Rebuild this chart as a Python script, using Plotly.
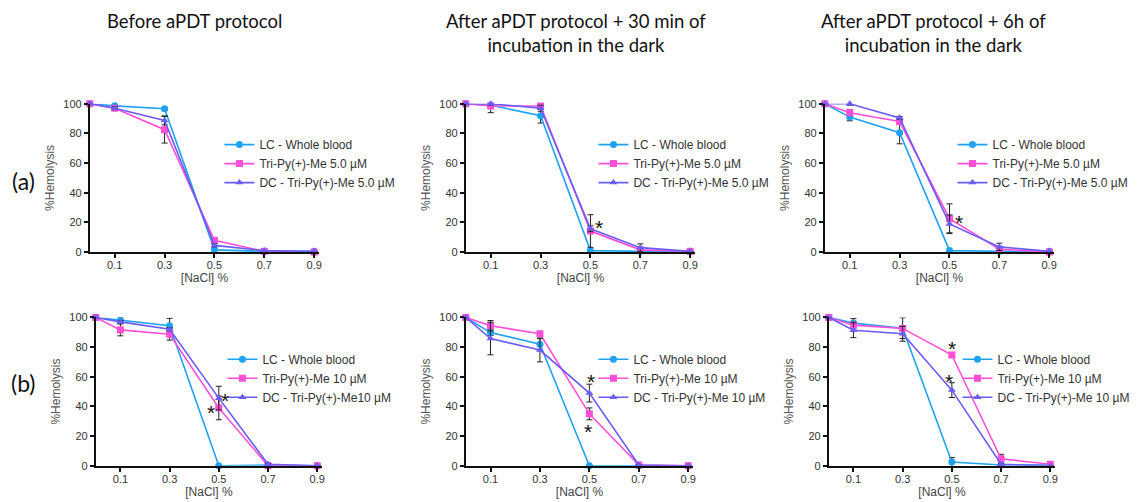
import plotly.graph_objects as go

# page body has an 8px margin; the figure is sized to fill the rest of the window
OFF = 8
W, H = 1140 - OFF, 502 - OFF


def px_x(v):
    return (v - OFF) / W


def px_y(v):
    return 1 - (v - OFF) / H


x_nacl = [0, 0.1, 0.3, 0.5, 0.7, 0.9]
x_ticks = [0.1, 0.3, 0.5, 0.7, 0.9]
x_ticklabels = ["0.1", "0.3", "0.5", "0.7", "0.9"]
y_ticks = [0, 20, 40, 60, 80, 100]

panel_titles = ["Before aPDT protocol",
                "After aPDT protocol + 30 min of<br>incubation in the dark",
                "After aPDT protocol + 6h of<br>incubation in the dark"]
row_labels = ["(a)", "(b)"]

series_names = [
    ["LC - Whole blood", "Tri-Py(+)-Me 5.0 µM", "DC - Tri-Py(+)-Me 5.0 µM"],
    ["LC - Whole blood", "Tri-Py(+)-Me 5.0 µM", "DC - Tri-Py(+)-Me 5.0 µM"],
    ["LC - Whole blood", "Tri-Py(+)-Me 5.0 µM", "DC - Tri-Py(+)-Me 5.0 µM"],
    ["LC - Whole blood", "Tri-Py(+)-Me 10 µM", "DC - Tri-Py(+)-Me10 µM"],
    ["LC - Whole blood", "Tri-Py(+)-Me 10 µM", "DC - Tri-Py(+)-Me 10 µM"],
    ["LC - Whole blood", "Tri-Py(+)-Me 10 µM", "DC - Tri-Py(+)-Me 10 µM"],
]

# %Hemolysis values, panels a1,a2,a3,b1,b2,b3
lc_values = [
    [100, 98.6, 96.6, 1.5, 0.5, 0.5],
    [100, 99, 92, 1, 0.5, 0.5],
    [100, 91, 80.5, 1, 0.5, 0.5],
    [100, 98, 94.4, 0, 0.5, 0],
    [100, 89.8, 82, 0, 0, 0],
    [100, 96.2, 92.8, 2.5, 0.5, 0.5],
]
lc_errors = [
    [0, 1, 1, 0, 0, 0],
    [0, 5, 5, 0, 0, 0],
    [0, 2.5, 7.5, 0, 0, 0],
    [0, 2, 5, 0, 0, 0],
    [0, 2, 4, 0, 0, 0],
    [0, 3, 7, 3, 0, 0],
]
tri_values = [
    [100, 97, 82.5, 7.9, 0.5, 0],
    [100, 98.5, 98.5, 14.2, 1.5, 0.5],
    [100, 94, 88, 22.5, 2, 0],
    [100, 91.6, 88.7, 39, 0, 0],
    [100, 94.4, 89, 35, 0.5, 0],
    [100, 94.8, 92.6, 74.7, 4.7, 1],
]
tri_errors = [
    [0, 1, 9, 1, 0, 0],
    [0, 1, 1.5, 11, 1, 0],
    [0, 2, 2, 10, 1, 0],
    [0, 4, 4, 8, 0, 0],
    [0, 3.5, 1, 4, 0, 0],
    [0, 2, 1, 1, 3, 0],
]
dc_values = [
    [100, 97, 88.8, 4.5, 1, 0.5],
    [100, 100, 97, 15.7, 3, 0.5],
    [100, 100, 90.5, 19, 3.5, 0.5],
    [100, 97, 92, 45.6, 1, 0],
    [100, 85.8, 78, 49, 0.5, 0],
    [100, 91.4, 89, 51, 1, 0],
]
dc_errors = [
    [0, 1, 3, 1, 0, 0],
    [0, 1, 2, 2, 2.5, 0],
    [0, 1, 1, 6, 2.5, 0],
    [0, 1, 1, 8, 0.5, 0],
    [0, 11, 8, 6, 0, 0],
    [0, 5, 5, 5, 0, 0],
]

# significance asterisks (x, y) per panel
asterisks = [
    [],
    [(0.536, 19.5)],
    [(0.54, 22.8)],
    [(0.526, 47), (0.47, 38.5)],
    [(0.508, 59.5), (0.496, 25.7)],
    [(0.502, 81.8), (0.49, 59.5)],
]

colors = ["#1EA3F2", "#FF4FD6", "#6A5CF6"]
symbols = ["circle", "square", "triangle-up"]

# layout geometry in window pixels
x_px = [(90, 320), (467, 697), (827, 1057), (96, 323), (467, 695), (831, 1058)]
y_px = [(100, 252)] * 3 + [(319, 471)] * 3
legend_px = [(220, 127), (595, 127), (955, 127), (223, 347), (595, 347), (960, 347)]

fig = go.Figure()
all_vals = [lc_values, tri_values, dc_values]
all_errs = [lc_errors, tri_errors, dc_errors]

axis_font = dict(family="Liberation Sans, Arial", size=11, color="#333")

layout = dict()
for p in range(6):
    ax = "" if p == 0 else str(p + 1)
    leg = "legend" if p == 0 else "legend" + str(p + 1)
    for s in range(3):
        fig.add_trace(go.Scatter(
            x=x_nacl, y=all_vals[s][p], name=series_names[p][s],
            mode="lines+markers", xaxis="x" + ax, yaxis="y" + ax, legend=leg,
            line=dict(color=colors[s], width=1.6),
            marker=dict(color=colors[s], symbol=symbols[s], size=7),
            error_y=dict(type="data", array=all_errs[s][p], color="#222222",
                         thickness=1, width=3),
            cliponaxis=False, showlegend=True,
        ))
    x0, x1 = x_px[p]
    y0, y1 = y_px[p]
    layout["xaxis" + ax] = dict(
        domain=[px_x(x0), px_x(x1)], range=[0, 0.92], anchor="y" + ax,
        tickvals=x_ticks, ticktext=x_ticklabels, ticks="outside", ticklen=4,
        tickwidth=1.5, tickcolor="#111", showline=True, linecolor="#111",
        linewidth=1.8, showgrid=False, zeroline=False,
        tickfont=axis_font, ticklabelstandoff=-2,
        title=dict(text="[NaCl] %", standoff=0,
                   font=dict(family="Liberation Sans, Arial", size=12, color="#444")),
        fixedrange=True,
    )
    layout["yaxis" + ax] = dict(
        domain=[px_y(y1), px_y(y0)], range=[0, 100], anchor="x" + ax,
        tickvals=y_ticks, ticks="outside", ticklen=4, tickwidth=1.5,
        tickcolor="#111", showline=True, linecolor="#111", linewidth=1.8,
        showgrid=False, zeroline=False,
        tickfont=axis_font,
        title=dict(text="%Hemolysis", standoff=6,
                   font=dict(family="Liberation Sans, Arial", size=12, color="#555")),
        fixedrange=True,
    )
    lx, ly = legend_px[p]
    layout[leg] = dict(
        x=px_x(lx), y=px_y(ly), xanchor="left", yanchor="top",
        bgcolor="rgba(0,0,0,0)", tracegroupgap=0, itemwidth=30,
        font=dict(family="Liberation Sans, Arial", size=12, color="#333"),
    )

annotations = []
title_x = [195, 578, 936]
for i, t in enumerate(panel_titles):
    annotations.append(dict(
        text=t, x=px_x(title_x[i]), y=px_y(8), xref="paper", yref="paper",
        xanchor="center", yanchor="top", yshift=6, showarrow=False,
        font=dict(family="Lato, Open Sans", size=18.5, color="#111"),
    ))
row_y = [179, 386]
for i, t in enumerate(row_labels):
    annotations.append(dict(
        text=t, x=px_x(24), y=px_y(row_y[i]), xref="paper", yref="paper",
        xanchor="center", yanchor="middle", showarrow=False,
        font=dict(family="Lato, Open Sans", size=23, color="#111"),
    ))
for p in range(6):
    ax = "" if p == 0 else str(p + 1)
    for (ax_x, ax_y) in asterisks[p]:
        annotations.append(dict(
            text="*", x=ax_x, y=ax_y, xref="x" + ax, yref="y" + ax,
            xanchor="center", yanchor="middle", yshift=-4, showarrow=False,
            font=dict(family="Liberation Sans, Arial", size=21, color="#111"),
        ))

fig.update_layout(
    width=W, height=H, margin=dict(l=0, r=0, t=0, b=0),
    paper_bgcolor="white", plot_bgcolor="white",
    annotations=annotations, **layout,
)
fig.write_html("out.html")
